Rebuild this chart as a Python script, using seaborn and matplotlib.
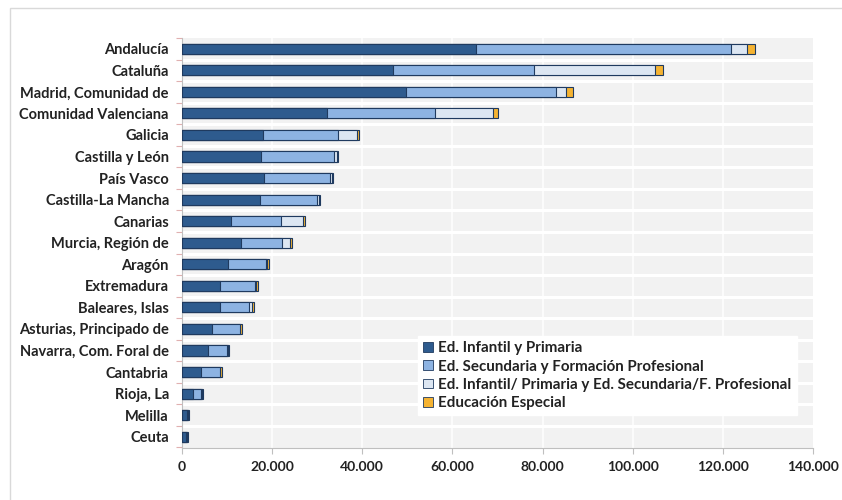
import matplotlib
matplotlib.use("Agg")
import matplotlib.pyplot as plt
from matplotlib.patches import Rectangle, Patch
from matplotlib.ticker import FuncFormatter, FixedLocator
import seaborn as sns
import pandas as pd
import numpy as np

regions = ["Andalucía", "Cataluña", "Madrid, Comunidad de", "Comunidad Valenciana",
           "Galicia", "Castilla y León", "País Vasco", "Castilla-La Mancha", "Canarias",
           "Murcia, Región de", "Aragón", "Extremadura", "Baleares, Islas",
           "Asturias, Principado de", "Navarra, Com. Foral de", "Cantabria", "Rioja, La",
           "Melilla", "Ceuta"]
infantil_primaria = [65300, 46900, 49600, 32100, 17900, 17500, 18100, 17400, 10800, 13000,
                     10300, 8400, 8400, 6600, 5700, 4200, 2500, 1000, 900]
secundaria_fp = [56500, 31300, 33400, 24000, 16700, 16200, 14800, 12600, 11100, 9200,
                 8300, 7900, 6400, 6200, 4300, 4200, 1800, 400, 300]
mixta = [3500, 26800, 2300, 12800, 4200, 600, 300, 300, 5000, 1800,
         200, 100, 800, 100, 100, 100, 100, 0, 0]
especial = [1800, 1700, 1500, 1200, 400, 400, 400, 400, 400, 400,
            400, 400, 400, 400, 400, 300, 300, 200, 200]
series_labels = ["Ed. Infantil y Primaria", "Ed. Secundaria y Formación Profesional",
                 "Ed. Infantil/ Primaria y Ed. Secundaria/F. Profesional", "Educación Especial"]
x_ticks = [0, 20000, 40000, 60000, 80000, 100000, 120000, 140000]

colors = ["#2e5b8e", "#8db3e2", "#dce6f2", "#f5b332"]
edge = "#1f3a5f"

sns.set_theme(style="white")
plt.rcParams["font.family"] = ["Lato", "DejaVu Sans"]
plt.rcParams["font.weight"] = "bold"

df = pd.DataFrame({"region": regions, "a": infantil_primaria, "b": secundaria_fp,
                   "c": mixta, "d": especial})
df["c1"] = df["a"]
df["c2"] = df["c1"] + df["b"]
df["c3"] = df["c2"] + df["c"]
df["c4"] = df["c3"] + df["d"]

fig = plt.figure(figsize=(8.42, 5.0), dpi=100)
fig.patch.set_facecolor("white")
ax = fig.add_axes([182 / 842, 1 - 447.5 / 500, (813 - 182) / 842, (447.5 - 38) / 500])
ax.set_facecolor("#f2f2f2")

for col, c in zip(["c4", "c3", "c2", "c1"], colors[::-1]):
    sns.barplot(data=df, x=col, y="region", order=regions, orient="h", color=c,
                saturation=1, width=0.47, errorbar=None, edgecolor=edge,
                linewidth=0.8, ax=ax, zorder=3)

ax.set_xlim(0, 140000)
ax.set_ylim(len(regions) - 0.5, -0.5)
for xv in x_ticks[1:-1]:
    ax.axvline(xv, color="#fbfbfb", lw=1.6, zorder=0.5)
for i in range(len(regions) - 1):
    ax.axhline(i + 0.5, color="white", lw=2.2, zorder=1)

ax.set_xlabel("")
ax.set_ylabel("")
ax.xaxis.set_major_locator(FixedLocator(x_ticks))
ax.xaxis.set_major_formatter(FuncFormatter(lambda v, p: f"{int(v):,}".replace(",", ".")))
ax.tick_params(axis="x", which="major", length=4, width=0.8, color="#bfbfbf",
               labelsize=10, labelcolor="#222222", pad=6, direction="out", bottom=True)
ax.tick_params(axis="y", which="major", length=0, labelsize=10.5, labelcolor="#222222",
               pad=9.5)
ax.yaxis.set_minor_locator(FixedLocator([i - 0.5 for i in range(len(regions) + 1)]))
ax.tick_params(axis="y", which="minor", length=4, width=0.8, color="#e0b0b0",
               direction="out", left=True)
for s in ["top", "right"]:
    ax.spines[s].set_visible(False)
ax.spines["left"].set_color("#bfbfbf")
ax.spines["bottom"].set_color("#bfbfbf")
ax.spines["left"].set_linewidth(0.8)
ax.spines["bottom"].set_linewidth(0.8)

handles = [Patch(facecolor=c, edgecolor=edge, linewidth=0.6) for c in colors]
leg = ax.legend(handles, series_labels, loc="upper left", bbox_to_anchor=(0.374, 0.272),
                prop={"size": 10.9, "weight": "bold"}, frameon=True, fancybox=False,
                handlelength=0.62, handleheight=0.62, handletextpad=0.35,
                labelspacing=0.28, borderpad=0.35, borderaxespad=0)
leg.get_frame().set_facecolor("white")
leg.get_frame().set_edgecolor("white")
leg.get_frame().set_alpha(1)
leg.set_zorder(5)
for t in leg.get_texts():
    t.set_color("#222222")

fig.patches.append(Rectangle((10 / 842, -0.02), 1.0, 1.0 - 8 / 500 + 0.02,
                             transform=fig.transFigure, fill=False,
                             edgecolor="#d9d9d9", lw=1.0))

fig.savefig("out.png", dpi=100)
